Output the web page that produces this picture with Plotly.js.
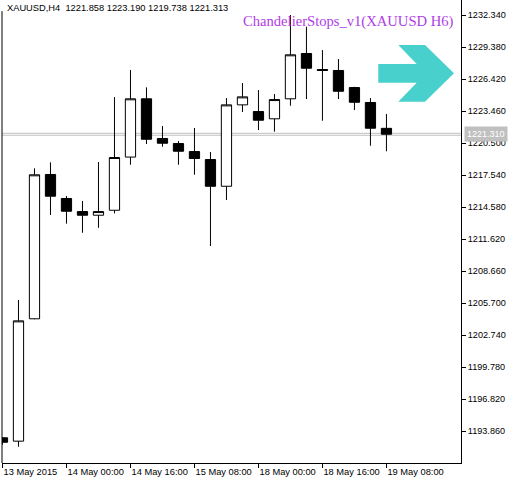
<!DOCTYPE html>
<html>
<head>
<meta charset="utf-8">
<script src="https://cdn.plot.ly/plotly-3.0.1.min.js"></script>
<style>html,body{margin:0;padding:0;background:#fff;}#chart{width:515px;height:480px;}</style>
</head>
<body>
<div id="chart"></div>
<script>
// ---- data ----
const symbol = "XAUUSD";
const period = "H4";
const indicatorName = "ChandelierStops_v1(XAUUSD H6)";
const times = [
  "2015-05-13 08:00","2015-05-13 12:00","2015-05-13 16:00","2015-05-13 20:00",
  "2015-05-14 00:00","2015-05-14 04:00","2015-05-14 08:00","2015-05-14 12:00",
  "2015-05-14 16:00","2015-05-14 20:00","2015-05-15 00:00","2015-05-15 04:00",
  "2015-05-15 08:00","2015-05-15 12:00","2015-05-15 16:00","2015-05-15 20:00",
  "2015-05-18 00:00","2015-05-18 04:00","2015-05-18 08:00","2015-05-18 12:00",
  "2015-05-18 16:00","2015-05-18 20:00","2015-05-19 00:00","2015-05-19 04:00",
  "2015-05-19 08:00"
];
const openP  = [1193.23,1192.92,1204.24,1217.59,1215.37,1214.16,1213.82,1214.28,1219.20,1224.59,1220.92,1220.45,1219.71,1218.97,1216.50,1224.03,1223.41,1222.74,1224.59,1228.78,1227.30,1227.21,1225.63,1224.25,1221.858];
const highP  = [1193.30,1205.98,1218.16,1218.71,1215.60,1215.14,1218.74,1224.75,1227.25,1225.65,1222.07,1220.68,1221.89,1219.67,1224.66,1226.05,1225.40,1225.03,1232.34,1231.26,1229.10,1228.27,1225.70,1224.66,1223.190];
const lowP   = [1192.60,1192.41,1204.20,1213.84,1213.04,1212.20,1212.66,1213.99,1218.49,1220.41,1220.16,1218.49,1217.57,1210.97,1215.23,1223.37,1221.70,1221.55,1223.95,1224.57,1222.56,1224.57,1223.55,1220.25,1219.738];
const closeP = [1192.82,1204.05,1217.56,1215.58,1214.19,1213.82,1214.16,1219.16,1224.59,1220.85,1220.48,1219.74,1219.07,1216.50,1224.03,1224.77,1222.61,1224.52,1228.66,1227.42,1227.21,1225.29,1224.27,1221.87,1221.313];
const yTickValues = [1193.860,1196.820,1199.780,1202.740,1205.700,1208.660,1211.620,1214.580,1217.540,1220.500,1223.460,1226.420,1229.380,1232.340];
const bidPrice = 1221.310;
const labelEvery = 4;

// ---- helpers ----
const months = ["Jan","Feb","Mar","Apr","May","Jun","Jul","Aug","Sep","Oct","Nov","Dec"];
function fmtTime(t, first) {
  const [d, hm] = t.split(" ");
  const [Y, M, D] = d.split("-");
  const day = String(parseInt(D, 10));
  return first ? day + " " + months[parseInt(M, 10) - 1] + " " + Y
               : day + " " + months[parseInt(M, 10) - 1] + " " + hm;
}
const tickVals = [], tickText = [];
times.forEach((t, i) => { if (i % labelEvery === 0) { tickVals.push(t); tickText.push(fmtTime(t, i === 0)); } });
const last = times.length - 1;
const header = symbol + "," + period + "  " + [openP[last], highP[last], lowP[last], closeP[last]].map(v => v.toFixed(3)).join(" ");

const trace = {
  type: "candlestick",
  x: times, open: openP, high: highP, low: lowP, close: closeP,
  increasing: { line: { color: "#000", width: 1 }, fillcolor: "#fff" },
  decreasing: { line: { color: "#000", width: 1 }, fillcolor: "#000" },
  whiskerwidth: 0,
  hoverinfo: "skip",
  showlegend: false
};

const axisFont = { family: "Liberation Sans, Arial, sans-serif", size: 9.3, color: "#000" };
const layout = {
  width: 515, height: 480,
  margin: { l: 2, r: 54, t: 0, b: 17, pad: 0 },
  paper_bgcolor: "#fff", plot_bgcolor: "#fff",
  showlegend: false,
  boxgap: 0.36, boxgroupgap: 0,
  xaxis: {
    type: "category", range: [-0.03, 28.66], autorange: false,
    showgrid: false, zeroline: false, showline: true, linecolor: "#000", linewidth: 1,
    ticks: "outside", ticklen: 4, tickwidth: 1, tickcolor: "#000",
    tickvals: tickVals, ticktext: tickText, tickangle: 0,
    ticklabelposition: "outside right",
    tickfont: axisFont,
    rangeslider: { visible: false }, fixedrange: true
  },
  yaxis: {
    side: "right", range: [1190.90, 1233.73], autorange: false,
    showgrid: false, zeroline: false, showline: true, linecolor: "#000", linewidth: 1,
    ticks: "outside", ticklen: 4, tickwidth: 1, tickcolor: "#000",
    tickvals: yTickValues, ticktext: yTickValues.map(v => v.toFixed(3)),
    tickfont: { family: "Liberation Sans, Arial, sans-serif", size: 9.1, color: "#000" },
    fixedrange: true
  },
  shapes: [
    { type: "line", xref: "paper", yref: "paper", x0: 0, x1: 0, y0: 0, y1: 0.976, line: { color: "#000", width: 1 }, layer: "above" },
    { type: "line", xref: "paper", yref: "y", x0: 0, x1: 1, y0: bidPrice + 0.09, y1: bidPrice + 0.09, line: { color: "#C0C0C0", width: 1 }, layer: "below" },
    { type: "line", xref: "paper", yref: "y", x0: 0, x1: 1, y0: bidPrice - 0.09, y1: bidPrice - 0.09, line: { color: "#C0C0C0", width: 1 }, layer: "below" },
    { type: "path", xref: "paper", yref: "paper", xsizemode: "pixel", ysizemode: "pixel", xanchor: 1, yanchor: 1,
      path: "M-82.7,-64 L-44.3,-64 L-62.7,-45 L-36,-45 L-7,-73.3 L-36,-101.7 L-62.7,-101.7 L-44.3,-82.7 L-82.7,-82.7 Z",
      fillcolor: "#48D1CC", line: { width: 0 }, layer: "above" }
  ],
  annotations: [
    { xref: "paper", yref: "paper", x: 0, y: 1, xanchor: "left", yanchor: "top", xshift: 2, yshift: 0,
      text: header, showarrow: false, borderpad: 2,
      font: { family: "Liberation Sans, Arial, sans-serif", size: 9.3, color: "#000" } },
    { xref: "paper", yref: "paper", x: 1, y: 1, xanchor: "right", yanchor: "middle", xshift: -5, yshift: -21,
      text: indicatorName, showarrow: false,
      font: { family: "Liberation Serif, Times New Roman, serif", size: 14.6, color: "#B03CE8" } },
    { xref: "paper", yref: "y", x: 1, y: bidPrice, xanchor: "left", yanchor: "middle", xshift: 3,
      text: bidPrice.toFixed(3), showarrow: false, bgcolor: "#C0C0C0", borderpad: 2,
      font: { family: "Liberation Sans, Arial, sans-serif", size: 9, color: "#fff" } }
  ]
};

Plotly.newPlot("chart", [trace], layout, { staticPlot: true, displayModeBar: false });
</script>
</body>
</html>
